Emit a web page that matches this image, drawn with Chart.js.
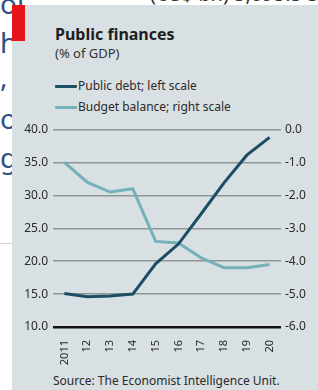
<!DOCTYPE html>
<html>
<head>
<meta charset="utf-8">
<script src="https://cdn.jsdelivr.net/npm/chart.js@4"></script>
<style>
  body { margin: 0; background: #fff; width: 318px; height: 390px; overflow: hidden; position: relative; font-family: 'Noto Sans', sans-serif; }
  .frag { position: absolute; left: 0; font-size: 28px; line-height: 28px; color: #2f4f86; white-space: nowrap; }
  .topfrag { position: absolute; left: 150px; top: -16px; font-size: 20px; line-height: 20px; color: #333; white-space: nowrap; }
  .rule { position: absolute; left: 0; top: 243px; width: 12px; height: 1px; background: #d3d3d3; }
  #panel { position: absolute; left: 12px; top: 5px; width: 306px; height: 385px; background: #d9e0e3; }
  #redbox { position: absolute; left: 0; top: 0; width: 13px; height: 36px; background: #e8141b; }
  .txt { position: absolute; white-space: nowrap; color: #1e1e1e; }
  #title { left: 43px; top: 21px; font-size: 16px; line-height: 16px; font-weight: bold; }
  #subtitle { left: 43px; top: 42px; font-size: 13px; line-height: 13px; color: #333; }
  .leg { left: 43px; font-size: 12px; line-height: 14px; color: #2a2a2a; }
  .leg i { display: inline-block; width: 22px; height: 3px; margin-right: 1px; vertical-align: middle; border-radius: 1px; }
  #source { left: 41px; top: 370px; font-size: 12px; line-height: 12px; color: #2a2a2a; }
  #chart { position: absolute; left: 0; top: 110px; }
</style>
</head>
<body>
<div class="frag" style="top:-11px">ol</div>
<div class="frag" style="top:28px">h</div>
<div class="frag" style="top:62px">, <span style="color:#e8892b">(</span></div>
<div class="frag" style="top:104px">o</div>
<div class="frag" style="top:143px">gi</div>
<div class="topfrag">(US$ bn) 5,095.5 5</div>
<div class="rule"></div>

<div id="panel">
  <div id="redbox"></div>
  <div class="txt" id="title">Public finances</div>
  <div class="txt" id="subtitle">(% of GDP)</div>
  <div class="txt leg" style="top:74px"><i style="background:#1b4e64"></i>Public debt; left scale</div>
  <div class="txt leg" style="top:95px"><i style="background:#74b1b8"></i>Budget balance; right scale</div>
  <canvas id="chart" width="306" height="250"></canvas>
  <div class="txt" id="source">Source: The Economist Intelligence Unit.</div>
</div>

<script>
const years = ["2011", "12", "13", "14", "15", "16", "17", "18", "19", "20"];
const publicDebt = [15.1, 14.6, 14.7, 15.0, 19.6, 22.6, 27.2, 31.9, 36.1, 38.8];
const budgetBalance = [-1.0, -1.6, -1.9, -1.8, -3.4, -3.45, -3.9, -4.2, -4.2, -4.1];
const leftTicks = [10, 40, 5];    // min, max, step
const rightTicks = [-6, 0, 1];

Chart.defaults.font.family = "'Noto Sans', sans-serif";
Chart.defaults.color = "#2a2a2a";

new Chart(document.getElementById("chart"), {
  type: "line",
  data: {
    labels: years,
    datasets: [
      {
        label: "Public debt; left scale",
        data: publicDebt,
        yAxisID: "y",
        borderColor: "#1b4e64",
        borderWidth: 3,
        pointRadius: 0,
        tension: 0
      },
      {
        label: "Budget balance; right scale",
        data: budgetBalance,
        yAxisID: "y1",
        borderColor: "#74b1b8",
        borderWidth: 3,
        pointRadius: 0,
        tension: 0
      }
    ]
  },
  options: {
    responsive: false,
    animation: false,
    devicePixelRatio: 1,
    layout: { padding: { top: 14.5, left: 0, right: 0, bottom: 0 } },
    plugins: { legend: { display: false }, tooltip: { enabled: false } },
    scales: {
      x: {
        offset: true,
        grid: { display: false },
        border: { display: false },
        ticks: { minRotation: 90, maxRotation: 90, padding: 5, font: { size: 11 }, color: "#2a2a2a" },
        afterFit: s => { s.height = 38; }
      },
      y: {
        position: "left",
        min: leftTicks[0], max: leftTicks[1],
        border: { display: false },
        grid: {
          drawTicks: false,
          color: c => c.tick && c.tick.value === leftTicks[0] ? "#111" : "#8e9597",
          lineWidth: c => c.tick && c.tick.value === leftTicks[0] ? 2.5 : 1.5
        },
        ticks: { stepSize: leftTicks[2], padding: 5, font: { size: 12 }, callback: v => v.toFixed(1) },
        afterFit: s => { s.width = 41; }
      },
      y1: {
        position: "right",
        min: rightTicks[0], max: rightTicks[1],
        border: { display: false },
        grid: { display: false, drawTicks: false },
        ticks: { stepSize: rightTicks[2], padding: 4, font: { size: 12 }, callback: v => v.toFixed(1) },
        afterFit: s => { s.width = 37; }
      }
    }
  }
});
</script>
</body>
</html>
